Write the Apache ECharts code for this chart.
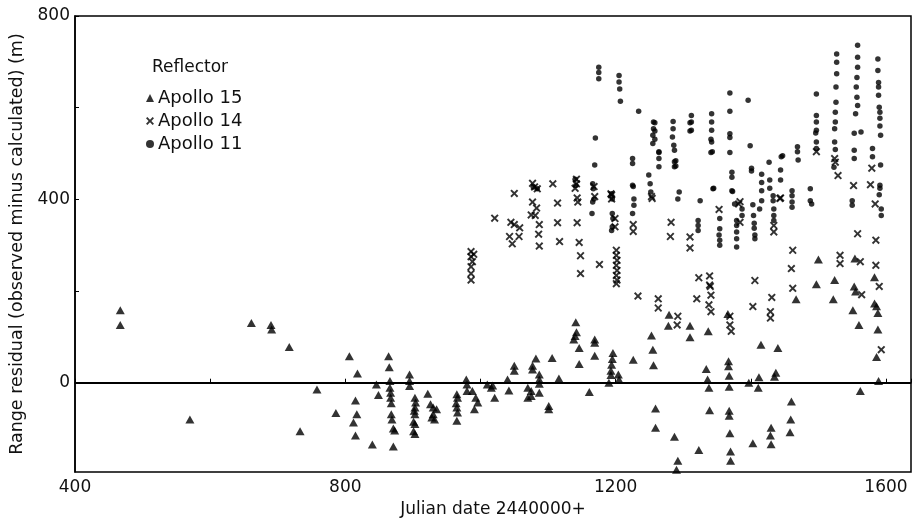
<!DOCTYPE html>
<html>
<head>
<meta charset="utf-8">
<script src="https://cdn.jsdelivr.net/npm/echarts@6/dist/echarts.min.js"></script>
<style>html,body{margin:0;padding:0;background:#fff;}#c{width:915px;height:523px;}</style>
</head>
<body>
<div id="c"></div>
<script>
const xLabels = [400, 800, 1200, 1600];
const yLabels = [0, 400, 800];
const seriesNames = ['Apollo 15', 'Apollo 14', 'Apollo 11'];

const apollo15 = [[467,158],[467,126],[570,-80],[661,130],[690,126],[691,116],[717,78],[733,-106],[758,-15],[786,-66],[806,58],[818,20],[815,-39],[817,-69],[812,-87],[815,-115],[840,-135],[846,-4],[849,-27],[864,58],[865,34],[866,4],[866,-11],[867,-22],[867,-33],[868,-45],[868,-69],[869,-80],[871,-100],[873,-104],[871,-139],[895,18],[895,4],[895,-7],[903,-33],[904,-43],[903,-54],[902,-61],[903,-69],[901,-85],[903,-90],[901,-106],[903,-112],[922,-24],[926,-47],[930,-54],[935,-58],[930,-69],[932,-80],[928,-76],[965,-25],[966,-33],[964,-45],[965,-54],[966,-65],[965,-83],[979,7],[980,-4],[980,-18],[988,-18],[993,-33],[996,-43],[991,-58],[1010,-4],[1016,-11],[1021,-33],[1018,-6],[1040,7],[1042,-17],[1050,37],[1050,26],[1070,-11],[1070,-33],[1082,53],[1077,37],[1077,29],[1087,18],[1087,7],[1087,-2],[1075,-18],[1075,-29],[1087,-22],[1106,54],[1101,-51],[1101,-58],[1116,9],[1141,132],[1142,110],[1140,102],[1138,94],[1146,76],[1146,41],[1169,94],[1169,87],[1169,59],[1161,-20],[1196,65],[1195,52],[1194,39],[1193,26],[1193,17],[1190,0],[1204,18],[1205,7],[1226,50],[1253,103],[1255,72],[1256,38],[1259,-56],[1259,-98],[1279,148],[1278,124],[1287,-118],[1292,-170],[1290,-190],[1310,124],[1310,99],[1323,-147],[1337,112],[1334,30],[1336,7],[1338,-11],[1339,-60],[1366,150],[1367,47],[1367,36],[1368,15],[1368,-9],[1368,-61],[1368,-72],[1369,-110],[1370,-150],[1370,-170],[1500,269],[1497,215],[1467,182],[1524,224],[1522,182],[1554,271],[1553,210],[1555,199],[1551,158],[1560,126],[1583,230],[1583,173],[1586,167],[1588,152],[1588,116],[1586,56],[1589,4],[1562,-18],[1415,83],[1440,76],[1412,12],[1437,22],[1435,13],[1397,0],[1411,-11],[1460,-41],[1459,-80],[1458,-108],[1430,-98],[1429,-115],[1430,-134],[1403,-132]];

const apollo14 = [[986,286],[986,275],[988,264],[986,253],[986,238],[986,224],[990,280],[1021,359],[1050,413],[1045,350],[1050,345],[1058,338],[1043,319],[1057,319],[1047,303],[1077,435],[1080,427],[1084,423],[1077,394],[1083,381],[1075,366],[1081,365],[1087,345],[1086,324],[1087,298],[1107,434],[1114,392],[1114,349],[1117,308],[1142,444],[1142,434],[1143,403],[1144,394],[1143,349],[1146,306],[1148,277],[1148,238],[1169,406],[1176,258],[1193,412],[1194,401],[1199,358],[1199,340],[1201,289],[1201,278],[1202,267],[1201,256],[1202,245],[1201,234],[1202,224],[1201,216],[1226,345],[1226,330],[1254,402],[1282,350],[1281,319],[1310,318],[1310,294],[1323,229],[1339,233],[1339,213],[1353,378],[1382,390],[1384,350],[1406,223],[1434,343],[1434,329],[1444,403],[1462,289],[1460,249],[1462,206],[1233,189],[1263,183],[1263,163],[1292,145],[1291,126],[1320,183],[1340,210],[1341,191],[1338,170],[1341,155],[1369,145],[1369,126],[1371,112],[1403,166],[1431,186],[1429,155],[1429,141],[1532,278],[1532,260],[1525,481],[1529,452],[1497,504],[1524,489],[1552,430],[1558,325],[1562,264],[1564,192],[1585,311],[1584,390],[1579,468],[1577,432],[1585,256],[1590,210],[1593,72],[1140,424],[1168,428],[1194,410],[1253,406],[1384,395],[1443,402]];

const apollo11 = [[1175,688],[1175,677],[1175,663],[1205,670],[1205,656],[1206,641],[1207,614],[1234,592],[1170,534],[1169,475],[1166,434],[1167,423],[1168,401],[1166,394],[1165,369],[1140,444],[1141,430],[1225,489],[1225,478],[1225,431],[1226,428],[1227,401],[1227,387],[1225,369],[1256,569],[1256,554],[1255,540],[1255,522],[1264,504],[1264,489],[1264,471],[1249,453],[1251,434],[1252,416],[1285,570],[1285,554],[1284,536],[1286,518],[1287,507],[1287,482],[1287,471],[1312,583],[1312,569],[1312,551],[1342,587],[1342,569],[1342,551],[1342,525],[1343,504],[1344,423],[1369,632],[1369,592],[1369,543],[1369,535],[1369,502],[1372,459],[1372,448],[1372,419],[1396,616],[1399,517],[1401,468],[1401,462],[1416,455],[1416,437],[1416,419],[1427,481],[1428,442],[1428,424],[1444,464],[1444,442],[1445,493],[1469,515],[1469,504],[1470,486],[1488,423],[1488,397],[1490,390],[1497,630],[1497,583],[1497,569],[1497,551],[1497,525],[1497,511],[1496,545],[1527,717],[1527,699],[1527,674],[1526,645],[1526,612],[1525,590],[1525,569],[1524,554],[1524,525],[1525,509],[1523,470],[1558,736],[1558,710],[1558,688],[1557,666],[1556,645],[1557,623],[1558,605],[1555,587],[1553,544],[1563,547],[1553,507],[1553,489],[1550,397],[1550,387],[1588,706],[1588,681],[1589,655],[1589,645],[1589,627],[1590,601],[1591,590],[1591,577],[1591,560],[1592,540],[1580,511],[1580,493],[1592,475],[1591,431],[1591,424],[1590,410],[1593,379],[1593,365],[1195,369],[1196,358],[1195,340],[1194,332],[1194,412],[1195,401],[1289,484],[1289,473],[1294,416],[1292,401],[1325,397],[1345,424],[1322,354],[1322,343],[1322,332],[1354,358],[1354,336],[1353,322],[1354,311],[1354,300],[1373,417],[1376,390],[1379,354],[1379,343],[1379,329],[1379,314],[1379,296],[1387,379],[1387,365],[1403,388],[1404,365],[1405,348],[1405,337],[1406,322],[1406,314],[1416,397],[1413,379],[1433,408],[1433,397],[1434,379],[1434,365],[1434,354],[1461,419],[1461,408],[1461,394],[1461,383],[1447,495],[1310,567],[1310,549],[1341,531],[1341,502],[1258,567],[1258,549],[1258,531],[1264,502],[1078,427],[1084,423]];

const crossPath = 'path://M0,1.7L1.7,0L5,3.3L8.3,0L10,1.7L6.7,5L10,8.3L8.3,10L5,6.7L1.7,10L0,8.3L3.3,5Z';
const FONT = 'DejaVu Sans';
const chart = echarts.init(document.getElementById('c'));
chart.setOption({
  backgroundColor: '#fff',
  animation: false,
  title: { text: 'Reflector', left: 147, top: 54, textStyle: { fontFamily: FONT, fontSize: 17, fontWeight: 'normal', color: '#111' } },
  legend: {
    orient: 'vertical', left: 141, top: 84, itemGap: 5, itemWidth: 8, itemHeight: 8,
    textStyle: { fontFamily: FONT, fontSize: 18, color: '#111', padding: [0,0,0,-1] },
    data: [
      { name: seriesNames[0], icon: 'triangle' },
      { name: seriesNames[1], icon: crossPath },
      { name: seriesNames[2], icon: 'circle' }
    ]
  },
  grid: { left: 75, right: 4, top: 16, bottom: 48, show: true, borderColor: '#000', borderWidth: 1.5, backgroundColor: 'transparent' },
  xAxis: {
    type: 'value', min: 400, max: 1637, interval: 200,
    name: 'Julian date 2440000+', nameLocation: 'middle', nameGap: 27,
    nameTextStyle: { fontFamily: FONT, fontSize: 17, color: '#111' },
    axisLine: { lineStyle: { color: '#000', width: 1.5 } },
    axisTick: { inside: true, length: 4, lineStyle: { color: '#000' } },
    axisLabel: { customValues: xLabels, margin: 7, fontFamily: FONT, fontSize: 17, color: '#111', formatter: function (v) { return String(v); } },
    splitLine: { show: false }
  },
  yAxis: {
    type: 'value', min: -195, max: 800, interval: 200,
    name: 'Range residual (observed minus calculated) (m)', nameLocation: 'middle', nameGap: 46,
    nameTextStyle: { fontFamily: FONT, fontSize: 17.5, color: '#111' },
    axisLine: { lineStyle: { color: '#000', width: 1.5 } },
    axisTick: { inside: true, length: 4, customValues: [0, 200, 400, 600, 800], lineStyle: { color: '#000' } },
    axisLabel: { customValues: yLabels, margin: 5, fontFamily: FONT, fontSize: 17, color: '#111', formatter: function (v) { return String(v); } },
    splitLine: { show: false }
  },
  series: [
    { name: seriesNames[0], type: 'scatter', data: apollo15, symbol: 'triangle', symbolSize: [9, 8],
      itemStyle: { color: '#000' },
      markLine: { silent: true, symbol: 'none', label: { show: false }, lineStyle: { color: '#000', width: 1.8, type: 'solid' }, data: [{ yAxis: 0 }] } },
    { name: seriesNames[1], type: 'scatter', data: apollo14, symbol: crossPath, symbolSize: 8, itemStyle: { color: '#000' } },
    { name: seriesNames[2], type: 'scatter', data: apollo11, symbol: 'circle', symbolSize: 5.5, itemStyle: { color: '#000' } }
  ]
});
</script>
</body>
</html>
